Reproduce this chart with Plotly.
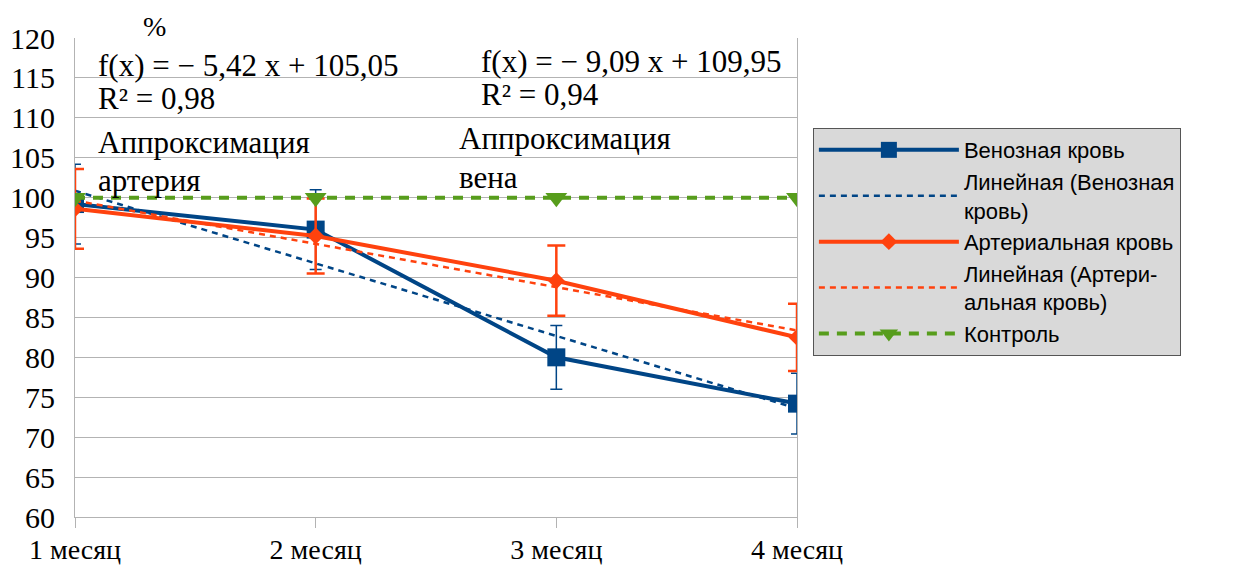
import plotly.graph_objects as go

categories = ["1 месяц", "2 месяц", "3 месяц", "4 месяц"]
venous = [99.2, 96.0, 80.0, 74.2]
venous_err = [5.0, 5.0, 4.0, 3.8]
arterial = [98.6, 95.2, 89.6, 82.5]
arterial_err = [5.0, 4.7, 4.4, 4.2]
control = [100, 100, 100, 100]
trend_venous_coef = [-9.09, 109.95]
trend_arterial_coef = [-5.42, 105.05]
y_ticks = [60, 65, 70, 75, 80, 85, 90, 95, 100, 105, 110, 115, 120]

BLUE = "#004586"
ORANGE = "#ff420e"
GREEN = "#579d1c"
SERIF = "Liberation Serif"
SANS = "Liberation Sans"

xs = list(range(1, len(categories) + 1))
trend_v = [trend_venous_coef[0] * x + trend_venous_coef[1] for x in xs]
trend_a = [trend_arterial_coef[0] * x + trend_arterial_coef[1] for x in xs]

fig = go.Figure()
fig.add_trace(go.Scatter(
    x=categories, y=venous, name="Венозная кровь", mode="lines+markers",
    line=dict(color=BLUE, width=4), marker=dict(symbol="square", size=18, color=BLUE),
    error_y=dict(type="data", array=venous_err, color=BLUE, thickness=1.5, width=6),
))
fig.add_trace(go.Scatter(
    x=categories, y=trend_v, name="Линейная (Венозная<br>кровь)", mode="lines",
    line=dict(color=BLUE, width=2.5, dash="6px,5px"),
))
fig.add_trace(go.Scatter(
    x=categories, y=arterial, name="Артериальная кровь", mode="lines+markers",
    line=dict(color=ORANGE, width=4), marker=dict(symbol="diamond", size=13, color=ORANGE),
    error_y=dict(type="data", array=arterial_err, color=ORANGE, thickness=2.5, width=9),
))
fig.add_trace(go.Scatter(
    x=categories, y=trend_a, name="Линейная (Артери-<br>альная кровь)", mode="lines",
    line=dict(color=ORANGE, width=2.5, dash="6px,5px"),
))
fig.add_trace(go.Scatter(
    x=categories, y=control, name="Контроль", mode="lines+markers",
    line=dict(color=GREEN, width=4, dash="10px,8px"),
    marker=dict(symbol="triangle-down", size=19, color=GREEN),
))

ann_font = dict(family=SERIF, size=31, color="black")
annotations = []
left_block = [("f(x) = − 5,42 x + 105,05", 116.6), ("R² = 0,98", 112.4),
              ("Аппроксимация", 106.9), ("артерия", 102.1)]
for txt, yv in left_block:
    annotations.append(dict(x=0.029, xref="paper", y=yv, yref="y", text=txt,
                            showarrow=False, xanchor="left", yanchor="middle", font=ann_font))
right_block = [("f(x) = − 9,09 x + 109,95", 117.0, 0.560), ("R² = 0,94", 112.9, 0.560),
               ("Аппроксимация", 107.4, 0.529), ("вена", 102.5, 0.529)]
for txt, yv, xp in right_block:
    annotations.append(dict(x=xp, xref="paper", y=yv, yref="y", text=txt,
                            showarrow=False, xanchor="left", yanchor="middle", font=ann_font))
annotations.append(dict(x=0.11, xref="paper", y=1.0, yref="paper", text="%",
                        showarrow=False, xanchor="center", yanchor="bottom",
                        yshift=-6, font=dict(family=SERIF, size=28, color="black")))

fig.update_layout(
    width=1251, height=565,
    margin=dict(l=75, r=454, t=38, b=48),
    paper_bgcolor="white", plot_bgcolor="white",
    showlegend=True,
    legend=dict(x=1.022, y=0.812, xanchor="left", yanchor="top",
                bgcolor="#d9d9d9", bordercolor="#555555", borderwidth=1,
                font=dict(family=SANS, size=22, color="black"),
                itemwidth=140, tracegroupgap=0),
    annotations=annotations,
)
fig.update_xaxes(type="category", range=[0, 3], showgrid=False, automargin=False,
                 showline=True, linecolor="#b3b3b3", linewidth=1,
                 ticks="outside", ticklen=10, tickcolor="#b3b3b3",
                 ticklabelstandoff=-3,
                 tickfont=dict(family=SERIF, size=28, color="black"))
fig.update_yaxes(range=[60, 120], tickvals=y_ticks, showgrid=True, automargin=False,
                 gridcolor="#b3b3b3", gridwidth=1, zeroline=False,
                 showline=True, linecolor="#b3b3b3", linewidth=1, mirror=True,
                 ticks="", ticklabelstandoff=13,
                 tickfont=dict(family=SERIF, size=30, color="black"))

fig.write_html("out.html")
